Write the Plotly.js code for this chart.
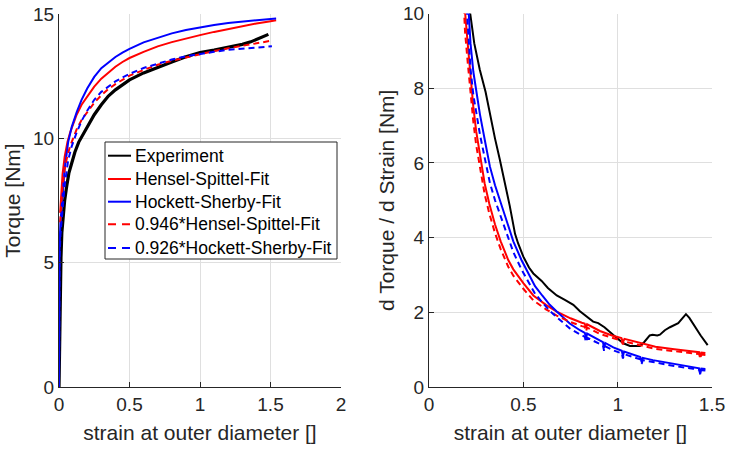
<!DOCTYPE html>
<html>
<head>
<meta charset="utf-8">
<script src="https://cdn.plot.ly/plotly-3.0.1.min.js"></script>
<style>html,body{margin:0;padding:0;background:#fff}#chart{width:730px;height:449px}</style>
</head>
<body>
<div id="chart"></div>
<script>
// ---------- Left panel: torque vs strain ----------
const expX = [0, 0.003, 0.006, 0.01, 0.014, 0.02, 0.03, 0.04, 0.054, 0.07, 0.09, 0.113, 0.14, 0.17, 0.2, 0.25, 0.3, 0.35, 0.4, 0.45, 0.5, 0.6, 0.7, 0.8, 0.9, 1.0, 1.1, 1.2, 1.3, 1.36, 1.42, 1.46, 1.485];
const expY = [0, 1.5, 3.5, 4.6, 5.2, 6.2, 7.0, 7.5, 8.05, 8.6, 9.0, 9.45, 9.85, 10.15, 10.45, 10.95, 11.35, 11.7, 11.95, 12.17, 12.35, 12.63, 12.86, 13.07, 13.28, 13.45, 13.55, 13.65, 13.78, 13.88, 14.02, 14.12, 14.18];

const hsX = [0.008, 0.015, 0.025, 0.04, 0.06, 0.08, 0.1, 0.125, 0.16, 0.208, 0.25, 0.3, 0.35, 0.4, 0.45, 0.5, 0.6, 0.7, 0.8, 0.9, 1.0, 1.1, 1.2, 1.3, 1.4, 1.49, 1.54];
const hsY = [7.0, 7.8, 8.55, 9.25, 9.85, 10.25, 10.6, 10.95, 11.35, 11.75, 12.08, 12.4, 12.66, 12.88, 13.07, 13.23, 13.48, 13.7, 13.87, 14.02, 14.15, 14.28, 14.4, 14.51, 14.62, 14.7, 14.75];

const hsScaledX = [0.008, 0.015, 0.025, 0.04, 0.06, 0.08, 0.1, 0.125, 0.16, 0.208, 0.25, 0.3, 0.35, 0.4, 0.45, 0.5, 0.6, 0.7, 0.8, 0.9, 1.0, 1.1, 1.2, 1.3, 1.4, 1.49];
const hsScaledY = [6.62, 7.38, 8.09, 8.75, 9.32, 9.70, 10.03, 10.36, 10.74, 11.12, 11.43, 11.73, 11.98, 12.18, 12.36, 12.52, 12.75, 12.96, 13.12, 13.26, 13.39, 13.51, 13.62, 13.73, 13.83, 13.91];

const hockX = [0, 0.001, 0.004, 0.01, 0.02, 0.04, 0.065, 0.09, 0.125, 0.16, 0.2, 0.25, 0.3, 0.35, 0.4, 0.45, 0.5, 0.6, 0.7, 0.8, 0.9, 1.0, 1.1, 1.2, 1.3, 1.4, 1.51, 1.54];
const hockY = [0, 3.5, 5.6, 6.6, 7.45, 8.75, 9.85, 10.45, 11.05, 11.55, 12.0, 12.47, 12.82, 13.06, 13.27, 13.45, 13.6, 13.86, 14.05, 14.22, 14.36, 14.47, 14.56, 14.64, 14.7, 14.75, 14.8, 14.82];

const hockScaledX = [0, 0.001, 0.004, 0.01, 0.02, 0.04, 0.065, 0.09, 0.125, 0.16, 0.2, 0.25, 0.3, 0.35, 0.4, 0.45, 0.5, 0.6, 0.7, 0.8, 0.9, 1.0, 1.1, 1.2, 1.3, 1.4, 1.51];
const hockScaledY = [0, 3.24, 5.19, 6.11, 6.90, 8.10, 9.12, 9.68, 10.23, 10.70, 11.11, 11.55, 11.87, 12.09, 12.29, 12.45, 12.59, 12.83, 13.01, 13.17, 13.30, 13.40, 13.48, 13.56, 13.61, 13.66, 13.70];

// ---------- Right panel: d torque / d strain ----------
const dExpX = [0.205, 0.217, 0.24, 0.269, 0.3, 0.323, 0.35, 0.375, 0.4, 0.428, 0.456, 0.472, 0.5, 0.53, 0.553, 0.58, 0.597, 0.63, 0.677, 0.72, 0.765, 0.8, 0.836, 0.87, 0.897, 0.93, 0.977, 1.03, 1.065, 1.118, 1.14, 1.17, 1.185, 1.21, 1.224, 1.25, 1.277, 1.3, 1.321, 1.345, 1.362, 1.38, 1.41, 1.44, 1.477];
const dExpY = [11.0, 10.05, 9.2, 8.5, 7.9, 7.3, 6.65, 6.1, 5.55, 4.85, 4.1, 3.85, 3.49, 3.2, 3.04, 2.92, 2.84, 2.65, 2.45, 2.33, 2.2, 2.03, 1.88, 1.75, 1.71, 1.6, 1.39, 1.17, 1.1, 1.1, 1.2, 1.38, 1.4, 1.38, 1.4, 1.52, 1.6, 1.65, 1.71, 1.85, 1.95, 1.85, 1.61, 1.38, 1.12];

const dHsX = [0.18, 0.191, 0.205, 0.217, 0.235, 0.25, 0.27, 0.295, 0.32, 0.35, 0.38, 0.42, 0.447, 0.5, 0.553, 0.62, 0.677, 0.75, 0.81, 0.825, 0.832, 0.838, 0.906, 0.97, 1.02, 1.028, 1.036, 1.1, 1.2, 1.3, 1.4, 1.432, 1.438, 1.444, 1.465];
const dHsY = [11.3, 10.05, 9.2, 8.5, 7.5, 6.85, 6.2, 5.45, 4.9, 4.35, 3.9, 3.4, 3.15, 2.78, 2.45, 2.2, 2.02, 1.84, 1.72, 1.7, 1.58, 1.68, 1.5, 1.38, 1.31, 1.2, 1.29, 1.2, 1.08, 1.01, 0.95, 0.93, 0.8, 0.92, 0.91];
const dHsScaledY = [10.69, 9.51, 8.70, 8.04, 7.10, 6.48, 5.87, 5.16, 4.64, 4.12, 3.69, 3.22, 2.98, 2.63, 2.32, 2.08, 1.91, 1.74, 1.63, 1.61, 1.49, 1.59, 1.42, 1.31, 1.24, 1.14, 1.22, 1.14, 1.02, 0.96, 0.90, 0.88, 0.76, 0.87, 0.86];

const dHockX = [0.19, 0.208, 0.22, 0.235, 0.251, 0.27, 0.3, 0.323, 0.35, 0.375, 0.41, 0.447, 0.49, 0.534, 0.562, 0.6, 0.64, 0.677, 0.746, 0.8, 0.826, 0.832, 0.838, 0.922, 0.928, 0.934, 0.977, 1.022, 1.028, 1.034, 1.12, 1.127, 1.133, 1.187, 1.3, 1.4, 1.432, 1.438, 1.444, 1.465];
const dHockY = [11.8, 10.05, 9.2, 8.44, 7.9, 7.3, 6.5, 5.9, 5.4, 5.0, 4.45, 3.9, 3.4, 2.96, 2.7, 2.45, 2.2, 2.02, 1.7, 1.52, 1.45, 1.3, 1.43, 1.2, 1.05, 1.18, 1.06, 0.97, 0.82, 0.95, 0.8, 0.67, 0.78, 0.72, 0.61, 0.53, 0.5, 0.36, 0.49, 0.48];
const dHockScaledY = [10.93, 9.31, 8.52, 7.82, 7.32, 6.76, 6.02, 5.46, 5.0, 4.63, 4.12, 3.61, 3.15, 2.74, 2.50, 2.27, 2.04, 1.87, 1.57, 1.41, 1.34, 1.20, 1.32, 1.11, 0.97, 1.09, 0.98, 0.90, 0.76, 0.88, 0.74, 0.62, 0.72, 0.67, 0.56, 0.49, 0.46, 0.33, 0.45, 0.44];

const names = ['Experiment', 'Hensel-Spittel-Fit', 'Hockett-Sherby-Fit', '0.946*Hensel-Spittel-Fit', '0.926*Hockett-Sherby-Fit'];
const xTicksLeft = [0, 0.5, 1, 1.5, 2];
const yTicksLeft = [0, 5, 10, 15];
const xTicksRight = [0, 0.5, 1, 1.5];
const yTicksRight = [0, 2, 4, 6, 8, 10];

const BLACK = '#000000', RED = '#ff0000', BLUE = '#0000ff';
const DASH = '6px,4px';
const colors = [BLACK, RED, BLUE, RED, BLUE];
const dashes = ['solid', 'solid', 'solid', DASH, DASH];

const traces = [
  {x: expX, y: expY, name: names[0], mode: 'lines', line: {color: BLACK, width: 3.2}, xaxis: 'x', yaxis: 'y'},
  {x: hsX, y: hsY, name: names[1], mode: 'lines', line: {color: RED, width: 2}, xaxis: 'x', yaxis: 'y'},
  {x: hockX, y: hockY, name: names[2], mode: 'lines', line: {color: BLUE, width: 2}, xaxis: 'x', yaxis: 'y'},
  {x: hsScaledX, y: hsScaledY, name: names[3], mode: 'lines', line: {color: RED, width: 2, dash: DASH}, xaxis: 'x', yaxis: 'y'},
  {x: hockScaledX, y: hockScaledY, name: names[4], mode: 'lines', line: {color: BLUE, width: 2, dash: DASH}, xaxis: 'x', yaxis: 'y'},

  {x: dExpX, y: dExpY, name: names[0], mode: 'lines', line: {color: BLACK, width: 2}, xaxis: 'x2', yaxis: 'y2'},
  {x: dHsX, y: dHsY, name: names[1], mode: 'lines', line: {color: RED, width: 2}, xaxis: 'x2', yaxis: 'y2'},
  {x: dHockX, y: dHockY, name: names[2], mode: 'lines', line: {color: BLUE, width: 2}, xaxis: 'x2', yaxis: 'y2'},
  {x: dHsX, y: dHsScaledY, name: names[3], mode: 'lines', line: {color: RED, width: 2, dash: DASH}, xaxis: 'x2', yaxis: 'y2'},
  {x: dHockX, y: dHockScaledY, name: names[4], mode: 'lines', line: {color: BLUE, width: 2, dash: DASH}, xaxis: 'x2', yaxis: 'y2'}
];
traces.forEach(t => { t.showlegend = false; });

const AX = '#262626', GRID = '#dfdfdf';
const FAMILY = 'Liberation Sans, Arial, sans-serif';
const tickFont = {family: FAMILY, size: 19, color: AX};
const titleFont = {family: FAMILY, size: 21, color: AX};
function axis(extra) {
  return Object.assign({
    showline: true, linecolor: AX, linewidth: 1, mirror: false,
    showgrid: true, gridcolor: GRID, gridwidth: 1, zeroline: false,
    ticks: 'inside', ticklen: 5, tickcolor: AX, tickwidth: 1,
    tickfont: tickFont, automargin: false, fixedrange: true
  }, extra);
}

// MATLAB-style legend box drawn in paper (pixel-derived) coordinates
const W = 730, H = 449;
const px = v => v / W, py = v => 1 - v / H;
const legBox = {x0: 105, x1: 337, y0: 142, y1: 259};
const rowY = [155.7, 179, 201.7, 224.3, 248];
const shapes = [{type: 'rect', xref: 'paper', yref: 'paper', x0: px(legBox.x0), x1: px(legBox.x1), y0: py(legBox.y1), y1: py(legBox.y0),
  line: {color: AX, width: 1}, fillcolor: '#ffffff', layer: 'above'}];
const annotations = [];
names.forEach((n, i) => {
  shapes.push({type: 'line', xref: 'paper', yref: 'paper', x0: px(108), x1: px(131), y0: py(rowY[i]), y1: py(rowY[i]),
    line: {color: colors[i], width: 2, dash: dashes[i] === 'solid' ? 'solid' : '8px,6px'}, layer: 'above'});
  annotations.push({xref: 'paper', yref: 'paper', x: px(133), y: py(rowY[i]), xanchor: 'left', yanchor: 'middle',
    text: n, showarrow: false, font: {family: FAMILY, size: 17.5, color: '#000000'}});
});

const layout = {
  width: W, height: H,
  margin: {l: 0, r: 0, t: 0, b: 0},
  paper_bgcolor: '#ffffff', plot_bgcolor: '#ffffff',
  showlegend: false,
  shapes: shapes,
  annotations: annotations,
  xaxis: axis({domain: [59/730, 341/730], range: [0, 2], tickvals: xTicksLeft, ticktext: ['0', '0.5', '1', '1.5', '2'], anchor: 'y',
    title: {text: 'strain at outer diameter []', font: titleFont, standoff: 11}}),
  yaxis: axis({domain: [62/449, 435/449], range: [0, 15], tickvals: yTicksLeft, anchor: 'x',
    title: {text: 'Torque [Nm]', font: titleFont, standoff: 6}}),
  xaxis2: axis({domain: [429/730, 712/730], range: [0, 1.5], tickvals: xTicksRight, ticktext: ['0', '0.5', '1', '1.5'], anchor: 'y2',
    title: {text: 'strain at outer diameter []', font: titleFont, standoff: 11}}),
  yaxis2: axis({domain: [62/449, 435.5/449], range: [0, 10], tickvals: yTicksRight, anchor: 'x2',
    title: {text: 'd Torque / d Strain [Nm]', font: titleFont, standoff: 2}})
};

Plotly.newPlot('chart', traces, layout, {staticPlot: true, displayModeBar: false});
</script>
</body>
</html>
